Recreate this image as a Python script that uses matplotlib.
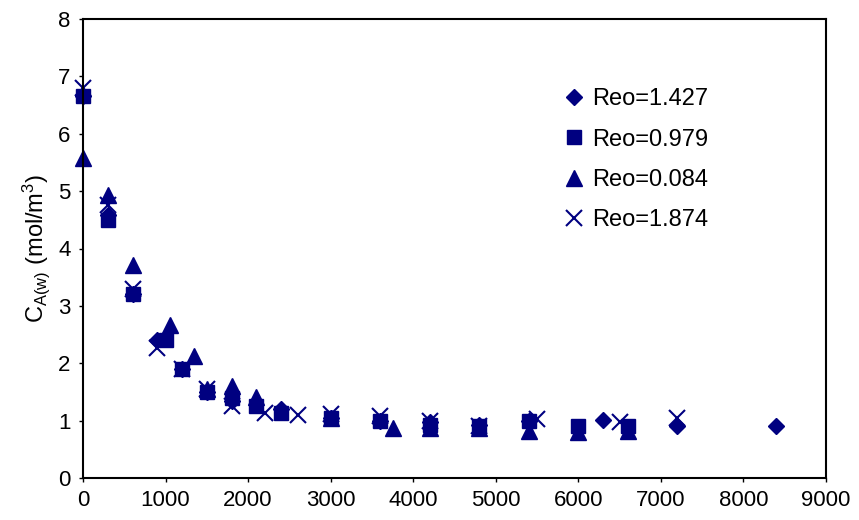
import matplotlib
matplotlib.use("Agg")
import matplotlib.pyplot as plt

plt.rcParams['font.family'] = ['Liberation Sans', 'DejaVu Sans']
plt.rcParams['mathtext.default'] = 'regular'

# Reo = 1.427 (diamonds)
t_d = [0, 300, 600, 900, 1200, 1500, 1800, 2400, 3000, 3600, 4200, 4800, 5400, 6300, 7200, 8400]
c_d = [6.65, 4.58, 3.2, 2.4, 1.9, 1.5, 1.35, 1.2, 1.05, 1.0, 0.97, 0.93, 1.0, 1.01, 0.9, 0.9]

# Reo = 0.979 (squares)
t_s = [0, 300, 600, 1000, 1200, 1500, 1800, 2100, 2400, 3000, 3600, 4200, 4800, 5400, 6000, 6600]
c_s = [6.65, 4.5, 3.2, 2.4, 1.9, 1.5, 1.4, 1.25, 1.13, 1.05, 1.0, 0.92, 0.9, 1.0, 0.9, 0.9]

# Reo = 0.084 (triangles)
t_t = [0, 300, 600, 1050, 1350, 1500, 1800, 2100, 3000, 3750, 4200, 4800, 5400, 6000, 6600]
c_t = [5.58, 4.93, 3.72, 2.67, 2.12, 1.55, 1.6, 1.42, 1.05, 0.88, 0.87, 0.87, 0.82, 0.8, 0.82]

# Reo = 1.874 (crosses)
t_x = [0, 300, 600, 900, 1200, 1500, 1800, 2200, 2600, 3000, 3600, 4200, 4800, 5500, 6500, 7200]
c_x = [6.8, 4.75, 3.3, 2.27, 1.9, 1.55, 1.25, 1.13, 1.1, 1.12, 1.08, 1.0, 0.9, 1.02, 0.98, 1.05]

labels = ["Reo=1.427", "Reo=0.979", "Reo=0.084", "Reo=1.874"]
navy = "#000080"

fig = plt.figure(figsize=(8.59, 5.20), dpi=100)
ax = fig.add_axes([83/859, 1-478/520, (826-83)/859, (478-19)/520])

ax.plot(t_d, c_d, linestyle='none', marker='D', markersize=8, color=navy, label=labels[0])
ax.plot(t_s, c_s, linestyle='none', marker='s', markersize=10, color=navy, label=labels[1])
ax.plot(t_t, c_t, linestyle='none', marker='^', markersize=11, color=navy, label=labels[2])
ax.plot(t_x, c_x, linestyle='none', marker='x', markersize=12, markeredgewidth=1.5, color=navy, label=labels[3])

ax.set_xlim(0, 9000)
ax.set_ylim(0, 8)
ax.set_xticks(range(0, 9001, 1000))
ax.set_yticks(range(0, 9))
ax.tick_params(direction='out', length=3, width=1, labelsize=16, pad=6)
for s in ax.spines.values():
    s.set_linewidth(1.5)
    s.set_color('black')
for l in ax.lines:
    l.set_clip_on(False)

ax.set_ylabel(r'C$_{A(w)}$ (mol/m$^{3}$)', fontsize=17, labelpad=4)

ax.legend(loc='upper left', bbox_to_anchor=(0.63, 0.875), frameon=False, fontsize=17,
          handlelength=0.9, handletextpad=0.35, labelspacing=0.78, borderpad=0)

fig.savefig("out.png", dpi=100)
